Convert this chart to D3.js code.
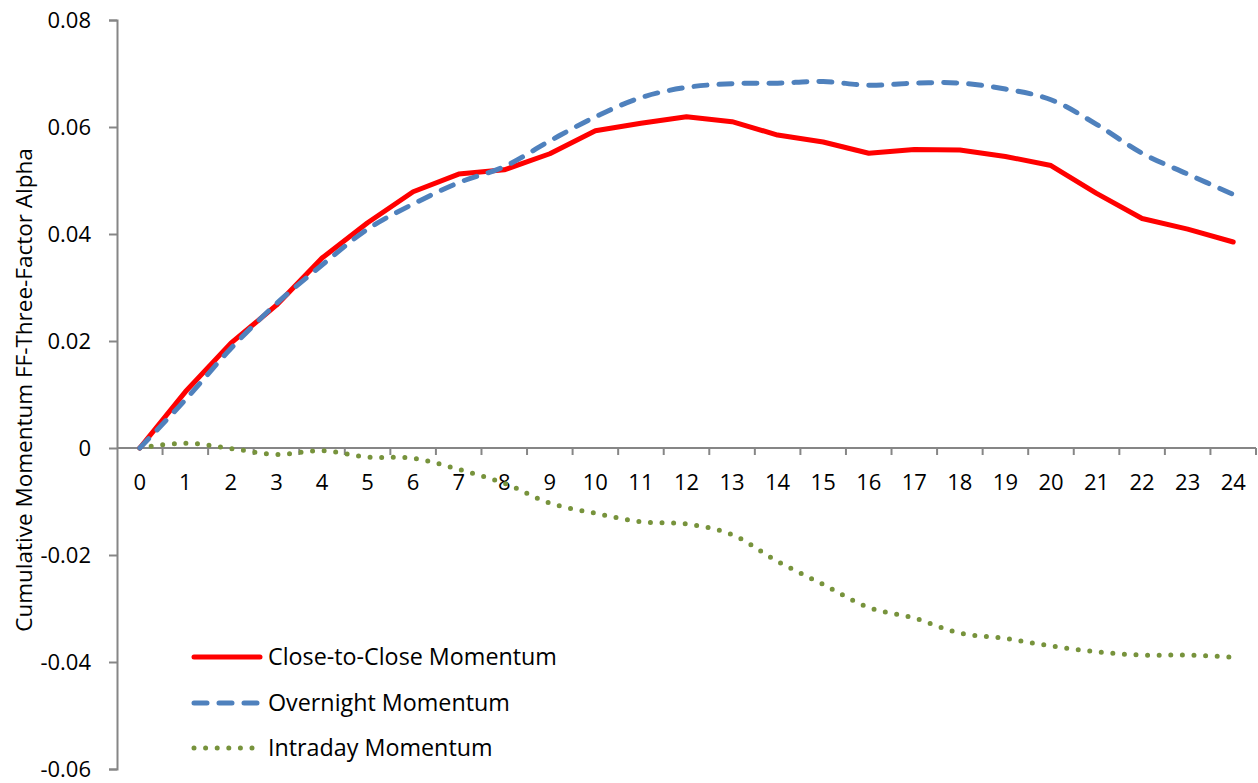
<!DOCTYPE html>
<html><head><meta charset="utf-8">
<script src="https://cdn.jsdelivr.net/npm/d3@7"></script>
<style>html,body{margin:0;padding:0;background:#fff}svg{display:block}</style>
</head><body>
<script>
const categories = d3.range(0, 25).map(String);
const closeToClose = [0, 0.0105, 0.0196, 0.0267, 0.0355, 0.0421, 0.0479, 0.0512, 0.0520, 0.0550, 0.0593, 0.0607, 0.0619, 0.0610, 0.0585, 0.0572, 0.0551, 0.0558, 0.0557, 0.0545, 0.0528, 0.0476, 0.0429, 0.0409, 0.0385];
const overnight = [0, 0.0090, 0.0186, 0.0270, 0.0342, 0.0409, 0.0456, 0.0496, 0.0526, 0.0574, 0.0619, 0.0655, 0.0674, 0.0681, 0.0682, 0.0685, 0.0678, 0.0682, 0.0682, 0.0671, 0.0651, 0.0605, 0.0551, 0.0512, 0.0474];
const intraday = [0, 0.0009, -0.0001, -0.0012, -0.0005, -0.0017, -0.0019, -0.0040, -0.0066, -0.0103, -0.0122, -0.0138, -0.0142, -0.0162, -0.0212, -0.0255, -0.0298, -0.0318, -0.0346, -0.0356, -0.0370, -0.0381, -0.0387, -0.0387, -0.0391];
const yTicks = [-0.06, -0.04, -0.02, 0, 0.02, 0.04, 0.06, 0.08];
const yTickLabels = ["-0.06", "-0.04", "-0.02", "0", "0.02", "0.04", "0.06", "0.08"];
const seriesNames = ["Close-to-Close Momentum", "Overnight Momentum", "Intraday Momentum"];
const yTitle = "Cumulative Momentum FF-Three-Factor Alpha";

const W = 1258, H = 783;
const svg = d3.select("body").append("svg").attr("width", W).attr("height", H);
const x = d3.scaleBand().domain(categories).range([117, 1256]);
const y = d3.scaleLinear().domain([-0.06, 0.08]).range([769, 20]);
const font = "'Open Sans', sans-serif";
const axisColor = "#868686";

// Y axis
const yAxis = svg.append("g").attr("transform", "translate(117,0)")
  .call(d3.axisLeft(y).tickValues(yTicks).tickSize(8).tickPadding(18)
    .tickFormat((d, i) => yTickLabels[i]));
yAxis.select(".domain").attr("stroke", axisColor).attr("stroke-width", 2);
yAxis.selectAll(".tick line").attr("stroke", axisColor).attr("stroke-width", 2);
yAxis.selectAll("text").attr("fill", "#000").style("font-family", font).style("font-size", "22px");

// X axis at zero (ticks between categories)
const xg = svg.append("g").attr("transform", `translate(0,${y(0)})`);
xg.append("line").attr("x1", 117).attr("x2", 1256).attr("y1", 0).attr("y2", 0)
  .attr("stroke", axisColor).attr("stroke-width", 2);
xg.selectAll("line.t").data(categories).enter().append("line").attr("class", "t")
  .attr("x1", d => x(d) + x.bandwidth()).attr("x2", d => x(d) + x.bandwidth())
  .attr("y1", 0).attr("y2", 7).attr("stroke", axisColor).attr("stroke-width", 2);
xg.selectAll("text").data(categories).enter().append("text")
  .attr("x", d => x(d) + x.bandwidth() / 2).attr("y", 42)
  .attr("text-anchor", "middle").style("font-family", font).style("font-size", "22px")
  .text(d => d);

// Y title
svg.append("text").attr("transform", "translate(32,390) rotate(-90)")
  .attr("text-anchor", "middle").style("font-family", font).style("font-size", "22.5px")
  .text(yTitle);

const cx = (d, i) => x(categories[i]) + x.bandwidth() / 2;
const styles = [
  {data: closeToClose, color: "#FF0000", dash: null, curve: d3.curveLinear},
  {data: overnight, color: "#4F81BD", dash: "13,12", curve: d3.curveCatmullRom},
  {data: intraday, color: "#77933C", dash: "0,11.6", curve: d3.curveCatmullRom}
];
const order = [2, 0, 1];
order.forEach(k => {
  const s = styles[k];
  const line = d3.line().x(cx).y(d => y(d)).curve(s.curve);
  svg.append("path").datum(s.data).attr("d", line).attr("fill", "none")
    .attr("stroke", s.color).attr("stroke-width", 5).attr("stroke-linecap", "round")
    .attr("stroke-linejoin", "round").attr("stroke-dasharray", s.dash);
});

// Legend
const legY = [657, 703, 748];
styles.forEach((s, i) => {
  svg.append("line").attr("x1", 194).attr("x2", 260).attr("y1", legY[i]).attr("y2", legY[i])
    .attr("stroke", s.color).attr("stroke-width", 5).attr("stroke-linecap", "round")
    .attr("stroke-dasharray", s.dash);
  svg.append("text").attr("x", 268).attr("y", legY[i]).attr("dy", "0.35em")
    .style("font-family", font).style("font-size", "23.3px").text(seriesNames[i]);
});
</script>
</body></html>
